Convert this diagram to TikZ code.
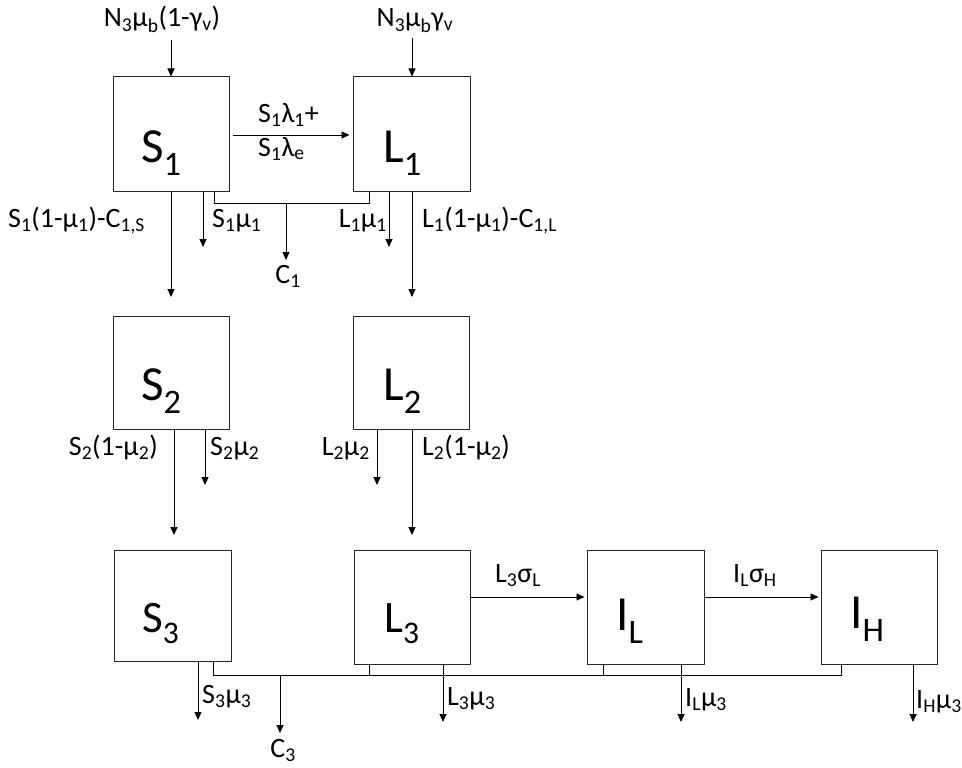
\documentclass[tikz,border=0pt]{standalone}
\usepackage{fontspec}
\setmainfont{Carlito}
\usetikzlibrary{arrows.meta,calc}
\tikzset{
  box/.style={draw=black!85, line width=1pt, inner sep=0pt, minimum width=116pt, minimum height=114pt},
  arr/.style={-{Triangle[length=8pt,width=7pt]}, line width=0.9pt},
  ln/.style={line width=0.9pt},
  big/.style={inner sep=0pt, font=\fontsize{49}{51}\selectfont},
  bigs/.style={inner sep=0pt, font=\fontsize{45}{47}\selectfont},
  lab/.style={inner sep=0pt, font=\fontsize{28}{30}\selectfont},
}
\begin{document}
\begin{tikzpicture}[x=1pt,y=-1pt]
\useasboundingbox (0,0) rectangle (962,768);
% boxes
\node[box] (S1) at (171,134) {};
\node[box, minimum width=117pt] (L1) at (411.5,134) {};
\node[box, minimum height=113pt] (S2) at (171,372.5) {};
\node[box, minimum height=113pt] (L2) at (411,372.5) {};
\node[box, minimum width=117pt, minimum height=111pt] (S3) at (172.5,605.5) {};
\node[box] (L3) at (412,607) {};
\node[box, minimum width=117pt] (IL) at (645.5,607) {};
\node[box] (IH) at (879,607) {};
% box labels
\node[big, anchor=base west] (tS1) at (141,162) {S\textsubscript{1}};
\node[big, anchor=base west] (tL1) at (383,162) {L\textsubscript{1}};
\node[big, anchor=base west] (tS2) at (141,400) {S\textsubscript{2}};
\node[big, anchor=base west] (tL2) at (383,400) {L\textsubscript{2}};
\node[bigs, anchor=base west] (tS3) at (142,632) {S\textsubscript{3}};
\node[bigs, anchor=base west] (tL3) at (384,632) {L\textsubscript{3}};
\node[big, anchor=base west] (tIL) at (616,630) {I\textsubscript{L}};
\node[big, anchor=base west] (tIH) at (850,628) {I\textsubscript{H}};
% inflows
\node[lab, anchor=base] (nS) at (162,27) {N\textsubscript{3}μ\textsubscript{b}(1-γ\textsubscript{v})};
\node[lab, anchor=base] (nL) at (415,27) {N\textsubscript{3}μ\textsubscript{b}γ\textsubscript{v}};
\coordinate (inS) at (171,40);
\coordinate (inL) at (412,38);
\draw[arr] (inS) -- (S1.north -| inS);
\draw[arr] (inL) -- (L1.north -| inL);
% S1 -> L1
\draw[arr] ($(S1.east)+(3,1)$) -- ($(L1.west)+(-3,1)$);
\node[lab, anchor=base west] (f1) at (258,122) {S\textsubscript{1}λ\textsubscript{1}+};
\node[lab, anchor=base west] (f2) at (258,156) {S\textsubscript{1}λ\textsubscript{e}};
% S1 bottom
\coordinate (eS1) at (171,297);
\coordinate (dS1) at (203,247);
\draw[arr] (S1.south -| eS1) -- (eS1);
\draw[arr] (S1.south -| dS1) -- (dS1);
\coordinate (c1a) at (214,203);
\coordinate (c1b) at (369,203);
\coordinate (c1j) at (286,203);
\coordinate (c1e) at (286,260);
\draw[ln] (S1.south -| c1a) -- (c1a) -- (c1b) -- (L1.south -| c1b);
\draw[arr] (c1j) -- (c1e);
\node[lab, anchor=base] (tC1) at (288,283) {C\textsubscript{1}};
\node[lab, anchor=base west] (g1) at (8,227) {S\textsubscript{1}(1-μ\textsubscript{1})-C\textsubscript{1,S}};
\node[lab, anchor=base west] (g2) at (212,227) {S\textsubscript{1}μ\textsubscript{1}};
% L1 bottom
\coordinate (dL1) at (389,247);
\coordinate (eL1) at (412,297);
\draw[arr] (L1.south -| dL1) -- (dL1);
\draw[arr] (L1.south -| eL1) -- (eL1);
\node[lab, anchor=base east] (g3) at (387,227) {L\textsubscript{1}μ\textsubscript{1}};
\node[lab, anchor=base west] (g4) at (422,227) {L\textsubscript{1}(1-μ\textsubscript{1})-C\textsubscript{1,L}};
% S2 bottom
\coordinate (eS2) at (174,535);
\coordinate (dS2) at (205,485);
\draw[arr] (S2.south -| eS2) -- (eS2);
\draw[arr] (S2.south -| dS2) -- (dS2);
\node[lab, anchor=base east] (h1) at (158,455) {S\textsubscript{2}(1-μ\textsubscript{2})};
\node[lab, anchor=base west] (h2) at (210,455) {S\textsubscript{2}μ\textsubscript{2}};
% L2 bottom
\coordinate (dL2) at (377,485);
\coordinate (eL2) at (412,535);
\draw[arr] (L2.south -| dL2) -- (dL2);
\draw[arr] (L2.south -| eL2) -- (eL2);
\node[lab, anchor=base east] (h3) at (370,455) {L\textsubscript{2}μ\textsubscript{2}};
\node[lab, anchor=base west] (h4) at (422,455) {L\textsubscript{2}(1-μ\textsubscript{2})};
% row 3 transitions
\draw[arr] ($(L3.east)+(0,-10)$) -- ($(IL.west)+(-2,-10)$);
\node[lab, anchor=base west] (k1) at (495,582) {L\textsubscript{3}σ\textsubscript{L}};
\draw[arr] ($(IL.east)+(0,-10)$) -- ($(IH.west)+(-2,-10)$);
\node[lab, anchor=base west] (k2) at (733,582) {I\textsubscript{L}σ\textsubscript{H}};
% row 3 deaths
\coordinate (dS3) at (198,720);
\coordinate (dL3) at (443,722);
\coordinate (dIL) at (681,722);
\coordinate (dIH) at (913,722);
\draw[arr] (S3.south -| dS3) -- (dS3);
\draw[arr] (L3.south -| dL3) -- (dL3);
\draw[arr] (IL.south -| dIL) -- (dIL);
\draw[arr] (IH.south -| dIH) -- (dIH);
\node[lab, anchor=base west] (m1) at (202,703) {S\textsubscript{3}μ\textsubscript{3}};
\node[lab, anchor=base west] (m2) at (447,705) {L\textsubscript{3}μ\textsubscript{3}};
\node[lab, anchor=base west] (m3) at (685,706) {I\textsubscript{L}μ\textsubscript{3}};
\node[lab, anchor=base west] (m4) at (916,708) {I\textsubscript{H}μ\textsubscript{3}};
% C3 collector
\coordinate (c3a) at (213,675);
\coordinate (c3b) at (841,675);
\coordinate (c3l) at (369,675);
\coordinate (c3i) at (603,675);
\coordinate (c3j) at (280,675);
\coordinate (c3e) at (280,733);
\draw[ln] (S3.south -| c3a) -- (c3a) -- (c3b) -- (IH.south -| c3b);
\draw[ln] (c3l) -- (L3.south -| c3l);
\draw[ln] (c3i) -- (IL.south -| c3i);
\draw[arr] (c3j) -- (c3e);
\node[lab, anchor=base] (tC3) at (283,757) {C\textsubscript{3}};
\end{tikzpicture}
\end{document}
